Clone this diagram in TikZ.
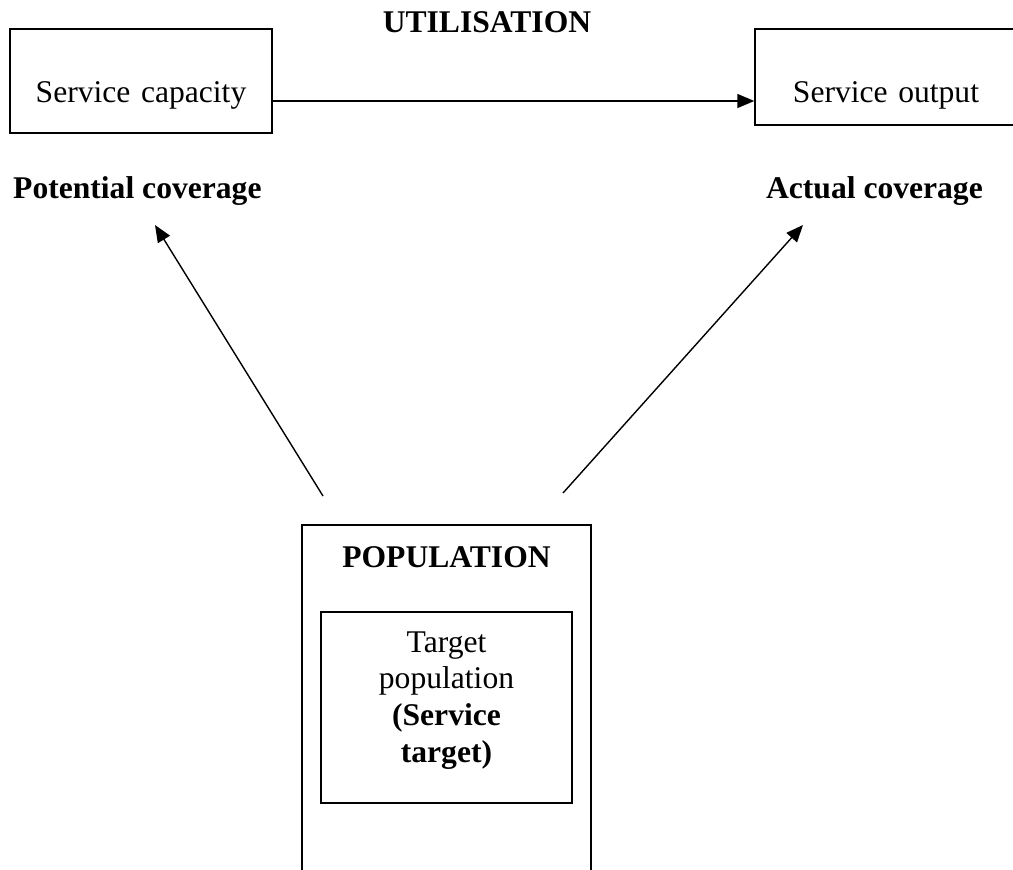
\documentclass[tikz,border=0pt]{standalone}
\usepackage{fontspec}
\setmainfont{Liberation Serif}
\usetikzlibrary{arrows.meta}
\tikzset{
  every node/.style={font=\fontsize{31.6}{36.6}\selectfont, inner sep=0pt},
  boxline/.style={draw, line width=1.4pt},
  lbl/.style={font=\fontsize{31.6}{36.6}\selectfont\bfseries},
  conn/.style={line width=1.4pt, -{Triangle[length=17pt,width=14pt]}}
}
\begin{document}
\begin{tikzpicture}[x=1pt,y=-1pt]
\useasboundingbox (0,0) rectangle (1013,870);
\clip (0,0) rectangle (1013,870);
% top boxes
\node[boxline, anchor=base, text width=262pt, align=center, text height=73pt, text depth=31pt] (cap) at (141,102) {Service capacity};
\node[boxline, anchor=base, text width=262pt, align=center, text height=73pt, text depth=23pt] (out) at (886,102) {Service output};
\draw[conn] (cap.east |- 0,101) -- (out.west |- 0,101);
% labels
\node[lbl, anchor=base] (util) at (487,32) {UTILISATION};
\node[lbl, anchor=base west] (pot) at (13,198) {Potential coverage};
\node[lbl, anchor=base east] (act) at (983,198) {Actual coverage};
% population
\node[boxline, anchor=base, text width=289pt, align=center, text height=42pt, text depth=330pt] (pop) at (446.5,567) {\bfseries POPULATION};
\node[boxline, minimum width=251pt, minimum height=191pt] (tgt) at (446.5,707.5) {};
\node[align=center, anchor=base] (tgttext) at (446.5,762) {Target\\population\\\textbf{(Service}\\\textbf{target)}};
% arrows
\coordinate (a1s) at (323,496);
\coordinate (a1e) at (155,225);
\coordinate (a2s) at (563,493);
\coordinate (a2e) at (803,225);
\draw[conn] (a1s) -- (a1e);
\draw[conn] (a2s) -- (a2e);
\end{tikzpicture}
\end{document}
